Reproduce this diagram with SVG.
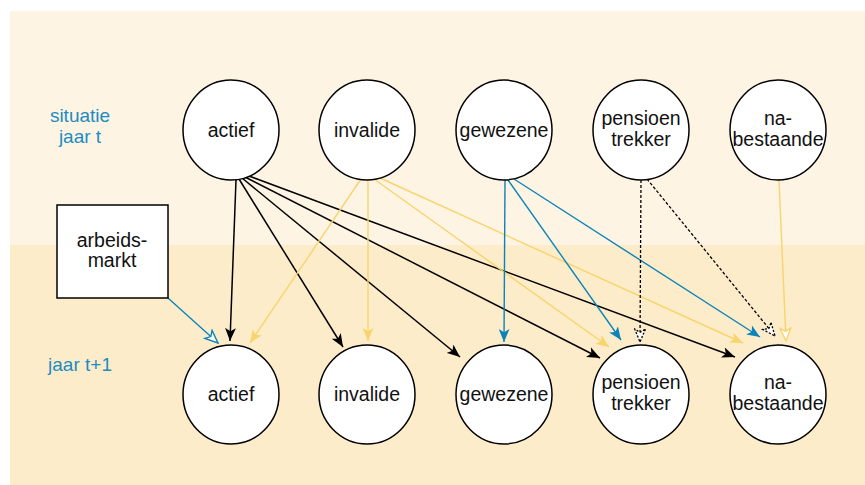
<svg xmlns="http://www.w3.org/2000/svg" width="865" height="485" viewBox="0 0 865 485">
<style>
.node ellipse{fill:#fff;stroke:#000;stroke-width:1.5}
.lbl{font-family:"Liberation Sans",Arial,sans-serif;font-size:19.5px;fill:#111;text-anchor:middle}
.side{font-family:"Liberation Sans",Arial,sans-serif;font-size:19px;fill:#1c8cc2;text-anchor:middle}
.k{stroke:#000;stroke-width:1.5;fill:none}
.y{stroke:#f8d46c;stroke-width:1.4;fill:none}
.b{stroke:#0c84b9;stroke-width:1.4;fill:none}
.d{stroke:#000;stroke-width:1.3;stroke-dasharray:3 2;fill:none}
</style>
<defs>
<marker id="ak" viewBox="0 0 12 10" refX="12" refY="5" markerWidth="13" markerHeight="11" markerUnits="userSpaceOnUse" orient="auto"><path d="M0,0 L12,5 L0,10 L3,5 z" fill="#000"/></marker>
<marker id="ay" viewBox="0 0 12 10" refX="12" refY="5" markerWidth="13" markerHeight="11" markerUnits="userSpaceOnUse" orient="auto"><path d="M0,0 L12,5 L0,10 L3,5 z" fill="#f8d46c"/></marker>
<marker id="ab" viewBox="0 0 12 10" refX="12" refY="5" markerWidth="13" markerHeight="11" markerUnits="userSpaceOnUse" orient="auto"><path d="M0,0 L12,5 L0,10 L3,5 z" fill="#0c84b9"/></marker>
<marker id="hb" viewBox="-1 -1 14 12" refX="12" refY="5" markerWidth="15" markerHeight="13" markerUnits="userSpaceOnUse" orient="auto"><path d="M0,0 L12,5 L0,10 L3,5 z" fill="#fff" stroke="#0c84b9" stroke-width="1.3"/></marker>
<marker id="hy" viewBox="-1 -1 14 12" refX="12" refY="5" markerWidth="15" markerHeight="13" markerUnits="userSpaceOnUse" orient="auto"><path d="M0,0 L12,5 L0,10 L3,5 z" fill="#fff" stroke="#f8d46c" stroke-width="1.3"/></marker>
<marker id="hk" viewBox="-1 -1 14 12" refX="12" refY="5" markerWidth="15" markerHeight="13" markerUnits="userSpaceOnUse" orient="auto"><path d="M0,0 L12,5 L0,10 L3,5 z" fill="#fff" stroke="#000" stroke-width="1.2" stroke-dasharray="2 1.5"/></marker>
</defs>
<rect x="0" y="0" width="865" height="485" fill="#fff"/>
<rect x="10" y="11" width="855" height="234" fill="#fef4e4"/>
<rect x="10" y="245" width="855" height="240" fill="#fdecc9"/>
<text class="side" x="80" y="122">situatie</text>
<text class="side" x="80" y="143">jaar t</text>
<text class="side" x="80" y="371">jaar t+1</text>
<g id="connectors">
<path class="k" d="M236,180 L230,341" marker-end="url(#ak)"/>
<path class="k" d="M239,179 L343,347" marker-end="url(#ak)"/>
<path class="k" d="M242,178 L460,357" marker-end="url(#ak)"/>
<path class="k" d="M245,177 L600,358" marker-end="url(#ak)"/>
<path class="k" d="M249,176 L735,357" marker-end="url(#ak)"/>
<path class="y" d="M361,179 L250,343" marker-end="url(#ay)"/>
<path class="y" d="M368,180 L368,341" marker-end="url(#ay)"/>
<path class="y" d="M374,179 L609,347" marker-end="url(#ay)"/>
<path class="y" d="M380,178 L743,343" marker-end="url(#ay)"/>
<path class="b" d="M505,180 L504,342" marker-end="url(#ab)"/>
<path class="b" d="M508,180 L621,340" marker-end="url(#ab)"/>
<path class="b" d="M514,179 L760,337" marker-end="url(#ab)"/>
<path class="d" d="M641,180 L640,342" marker-end="url(#hk)"/>
<path class="d" d="M647,179 L775,336" marker-end="url(#hk)"/>
<path class="y" d="M779,180 L786,341" marker-end="url(#hy)"/>
<path class="b" d="M168,298 L218,343" marker-end="url(#hb)"/>
</g>
<g id="arbeidsmarkt" class="node"><rect x="57" y="205" width="111" height="93" fill="#fff" stroke="#000" stroke-width="1.5"/><text class="lbl" x="112" y="247">arbeids-</text><text class="lbl" x="112" y="267">markt</text></g>
<g id="t-actief" class="node"><ellipse cx="231" cy="130" rx="48" ry="50"/><text class="lbl" x="231" y="137">actief</text></g>
<g id="t-invalide" class="node"><ellipse cx="367" cy="130" rx="48" ry="50"/><text class="lbl" x="367" y="137">invalide</text></g>
<g id="t-gewezene" class="node"><ellipse cx="504" cy="130" rx="48" ry="50"/><text class="lbl" x="504" y="137">gewezene</text></g>
<g id="t-pensioen" class="node"><ellipse cx="641" cy="130" rx="48" ry="50"/><text class="lbl" x="641" y="125">pensioen</text><text class="lbl" x="641" y="146">trekker</text></g>
<g id="t-na" class="node"><ellipse cx="778" cy="130" rx="48" ry="50"/><text class="lbl" x="778" y="125">na-</text><text class="lbl" x="778" y="146">bestaande</text></g>
<g id="b-actief" class="node"><ellipse cx="231" cy="394.5" rx="48" ry="49.5"/><text class="lbl" x="231" y="401">actief</text></g>
<g id="b-invalide" class="node"><ellipse cx="367" cy="394.5" rx="48" ry="49.5"/><text class="lbl" x="367" y="401">invalide</text></g>
<g id="b-gewezene" class="node"><ellipse cx="504" cy="394.5" rx="48" ry="49.5"/><text class="lbl" x="504" y="401">gewezene</text></g>
<g id="b-pensioen" class="node"><ellipse cx="641" cy="394.5" rx="48" ry="49.5"/><text class="lbl" x="641" y="389">pensioen</text><text class="lbl" x="641" y="410">trekker</text></g>
<g id="b-na" class="node"><ellipse cx="778" cy="394.5" rx="48" ry="49.5"/><text class="lbl" x="778" y="389">na-</text><text class="lbl" x="778" y="410">bestaande</text></g>
</svg>
